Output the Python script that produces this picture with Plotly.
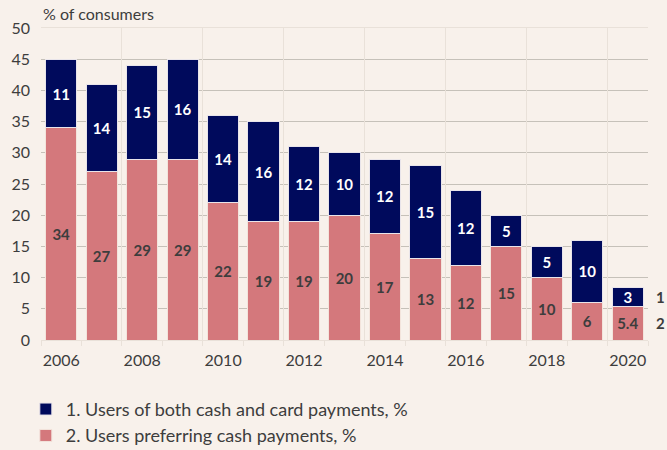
import plotly.graph_objects as go

years = list(range(2006, 2021))
cash_pref = [34, 27, 29, 29, 22, 19, 19, 20, 17, 13, 12, 15, 10, 6, 5.4]
both = [11, 14, 15, 16, 14, 16, 12, 10, 12, 15, 12, 5, 5, 10, 3]
name_both = "1. Users of both cash and card payments, %"
name_cash = "2. Users preferring cash payments, %"
tick_years = list(range(2006, 2021, 2))
y_ticks = list(range(0, 51, 5))

BG = "#f8f1eb"
NAVY = "#000a5c"
PINK = "#d4787c"
GRID_DARK = "#c6c1b9"
GRID_LIGHT = "#e9e1d9"
TXT = "#3d3d3d"
FONT = "Lato"

def fmt(v):
    return f"{v:g}"

fig = go.Figure()
fig.add_trace(go.Bar(
    x=years, y=cash_pref, name=name_cash, legendgroup="cash", legendrank=2,
    marker=dict(color=PINK, line=dict(color="#f3e4dc", width=1)),
    width=0.77,
    text=[fmt(v) for v in cash_pref], textposition="inside",
    insidetextanchor="middle", textangle=0, constraintext="none",
    textfont=dict(color=TXT, size=15, family=FONT, weight="bold"),
    hoverinfo="skip",
))
fig.add_trace(go.Bar(
    x=years, y=both, name=name_both, legendgroup="both", legendrank=1,
    marker=dict(color=NAVY, line=dict(color="#e8e4ea", width=1)),
    width=0.77,
    text=[fmt(v) for v in both], textposition="inside",
    insidetextanchor="middle", textangle=0, constraintext="none",
    textfont=dict(color="white", size=15, family=FONT, weight="bold"),
    hoverinfo="skip",
))

# invisible trace to activate xaxis2 (grid overlay)
fig.add_trace(go.Scatter(x=[years[0]], y=[0], xaxis="x2", mode="markers",
                         marker=dict(opacity=0), showlegend=False, hoverinfo="skip"))

x_lo, x_hi = years[0] - 0.5, years[-1] + 0.5
boundaries = [x_lo + i for i in range(len(years) + 1)]
grid_v = [x_lo + i for i in range(0, len(years) + 1, 2)] + [x_hi]

fig.update_layout(
    width=667, height=450,
    margin=dict(l=41, r=19, t=28, b=110, autoexpand=False),
    paper_bgcolor=BG, plot_bgcolor=BG,
    barmode="stack",
    font=dict(family=FONT, color=TXT, size=15),
    showlegend=True,
    legend=dict(x=-0.025, y=-0.163, xanchor="left", yanchor="top",
                traceorder="grouped",
                font=dict(size=18, color=TXT, family=FONT),
                bgcolor="rgba(0,0,0,0)", tracegroupgap=0),
    xaxis=dict(range=[x_lo, x_hi], tickvals=tick_years,
               ticktext=[str(y) for y in tick_years],
               showgrid=False, ticks="", zeroline=False,
               showline=True, linecolor=GRID_LIGHT, linewidth=1,
               tickfont=dict(size=16, color=TXT), ticklabelstandoff=6,
               minor=dict(tickvals=boundaries, ticks="outside", ticklen=5,
                          tickcolor=GRID_LIGHT, showgrid=False)),
    xaxis2=dict(range=[x_lo, x_hi], overlaying="x", side="top",
                tickvals=grid_v, showticklabels=False, ticks="",
                showgrid=True, gridcolor=GRID_LIGHT, gridwidth=1,
                showline=True, linecolor=GRID_LIGHT, zeroline=False),
    yaxis=dict(range=[0, 50], tickvals=y_ticks,
               ticktext=[str(v) for v in y_ticks],
               showgrid=False, ticks="", zeroline=False,
               tickfont=dict(size=16, color=TXT), ticklabelstandoff=10,
               minor=dict(tickvals=y_ticks[1:-1], showgrid=True,
                          gridcolor=GRID_DARK, gridwidth=1, ticks="")),
)

fig.add_annotation(text="% of consumers", xref="paper", yref="paper",
                   x=0, y=1, xanchor="left", yanchor="bottom", yshift=3,
                   showarrow=False, font=dict(size=16, color=TXT))

# series markers at right end of last bar
last_cash = cash_pref[-1]
last_both = both[-1]
fig.add_annotation(text="1", xref="x", yref="y", x=x_hi, y=last_cash + last_both / 2,
                   xanchor="left", xshift=6, showarrow=False,
                   font=dict(size=15, color=TXT, weight="bold"))
fig.add_annotation(text="2", xref="x", yref="y", x=x_hi, y=last_cash / 2,
                   xanchor="left", xshift=6, showarrow=False,
                   font=dict(size=15, color=TXT, weight="bold"))

fig.write_html(
    "out.html",
    config={"displayModeBar": False},
    post_script="document.body.style.margin='0';document.body.style.background='%s';" % BG,
)
